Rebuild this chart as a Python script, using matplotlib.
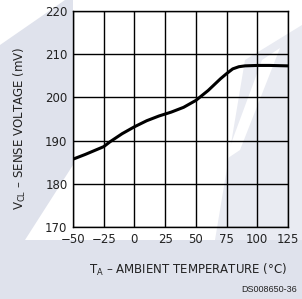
import matplotlib
matplotlib.use("Agg")
import matplotlib.pyplot as plt
from matplotlib.patches import Polygon

temps = [-50, -40, -30, -25, -20, -10, 0, 10, 20, 30, 40, 50, 60, 70, 75, 80, 85, 90, 100, 110, 125]
volts = [185.7, 186.8, 188.0, 188.6, 189.7, 191.6, 193.2, 194.6, 195.7, 196.6, 197.7, 199.3,
         201.6, 204.3, 205.5, 206.6, 207.1, 207.3, 207.4, 207.4, 207.3]
xticks = [-50, -25, 0, 25, 50, 75, 100, 125]
yticks = [170, 180, 190, 200, 210, 220]

W, H = 302, 299
fig = plt.figure(figsize=(W / 100, H / 100), dpi=100)
fig.patch.set_facecolor("white")

bg = "#dfe2ec"
bg2 = "#e9ebf2"
def px(pts):
    return [(x / W, 1 - y / H) for x, y in pts]
shapes = [
    ([(0, 240), (W, 240), (W, H), (0, H)], bg),
    ([(0, 45), (65, 0), (73, 0), (73, 240), (0, 240)], bg),
    ([(25, 240), (73, 165), (73, 240)], "white"),
    ([(245, 60), (302, 25), (302, 240), (215, 240)], bg2),
    ([(262, 60), (280, 48), (240, 150), (225, 160)], "white"),
]
for pts, col in shapes:
    fig.add_artist(Polygon(px(pts), closed=True, transform=fig.transFigure,
                           facecolor=col, edgecolor="none", zorder=-5))

ax = fig.add_axes([73 / W, 1 - 227 / H, (288 - 73) / W, (227 - 11) / H])
ax.set_zorder(1)
ax.patch.set_alpha(0)
ax.set_xlim(-50, 125)
ax.set_ylim(170, 220)
ax.set_xticks(xticks)
ax.set_yticks(yticks)
fam = ["Liberation Sans Narrow", "DejaVu Sans"]
ax.set_xticklabels(["\u221250", "\u221225"] + [str(t) for t in xticks[2:]], family=fam, fontsize=8.5)
ax.set_yticklabels([str(t) for t in yticks], family=fam, fontsize=8.5)
ax.tick_params(length=0, pad=4, colors="#222222")
ax.grid(True, color="black", linewidth=1.0)
for s in ax.spines.values():
    s.set_color("black")
    s.set_linewidth(1.0)
ax.plot(temps, volts, color="black", linewidth=2.2, solid_capstyle="butt")

fig.text(20 / W, 1 - 128 / H, "V$_{\\mathregular{CL}}$ \u2013 SENSE VOLTAGE (mV)",
         rotation=90, ha="center", va="center", family=fam, fontsize=8.5, color="#222222")
fig.text(188 / W, 1 - 270 / H, "T$_{\\mathregular{A}}$ \u2013 AMBIENT TEMPERATURE (\u00b0C)",
         ha="center", va="center", family=fam, fontsize=8.5, color="#222222")
fig.text(297 / W, 1 - 289 / H, "DS008650-36", ha="right", va="center",
         family=["Liberation Sans", "DejaVu Sans"], fontsize=6.5, color="#222222")

fig.savefig("out.png", dpi=100, facecolor=fig.get_facecolor())
